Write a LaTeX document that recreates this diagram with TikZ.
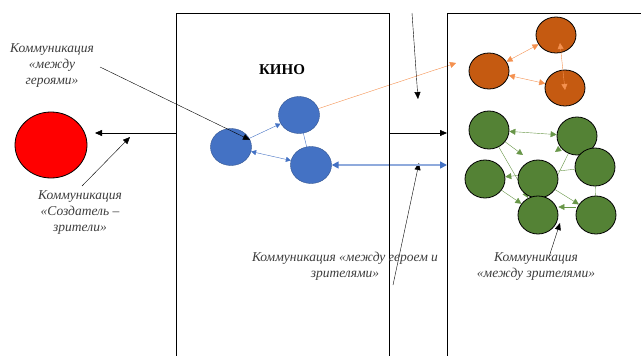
\documentclass[tikz,border=0pt]{standalone}
\usepackage{fontspec}
\setmainfont{Liberation Serif}
\usetikzlibrary{positioning,arrows.meta,shapes.geometric,backgrounds}

\definecolor{heroblue}{RGB}{68,114,196}
\definecolor{heroline}{RGB}{47,82,143}
\definecolor{lightblue}{RGB}{143,170,220}
\definecolor{rust}{RGB}{197,90,17}
\definecolor{orangearr}{RGB}{244,145,80}
\definecolor{viewgreen}{RGB}{84,130,53}
\definecolor{greenarr}{RGB}{104,150,72}
\definecolor{labelgray}{RGB}{60,60,60}

\begin{document}
\begin{tikzpicture}[
  x=1pt, y=-1pt,
  every node/.style={inner sep=0pt},
  hero/.style={ellipse, draw=heroline, fill=heroblue, minimum width=41pt, minimum height=37pt},
  star/.style={ellipse, draw=black, thick, fill=rust, minimum width=40pt, minimum height=36pt},
  viewer/.style={ellipse, draw=black, thick, fill=viewgreen, minimum width=40pt, minimum height=38pt},
  note/.style={align=center, text=labelgray, font=\fontsize{13.5}{16}\selectfont\itshape},
  arr/.style={-{Triangle[length=7pt,width=6pt]}, thin},
  barr/.style={heroblue, {Triangle[length=5pt,width=5pt]}-{Triangle[length=5pt,width=5pt]}, thin},
  oarr/.style={orangearr, {Triangle[length=6pt,width=6pt]}-{Triangle[length=6pt,width=6pt]}, thin},
  garr/.style={greenarr, -{Triangle[length=6pt,width=6pt]}, thin}
]
\useasboundingbox (0,0) rectangle (641,356);

% frames
\draw[thick] (176,356) -- (176,13) -- (389,13) -- (389,356);
\draw[thick] (447,356) -- (447,13) -- (641,13);

% nodes
\node[ellipse, draw=black, thick, fill=red, minimum width=72pt, minimum height=66pt] (creator) at (51,145) {};
\node[font=\fontsize{15}{18}\selectfont\bfseries] (kino) at (282,70) {КИНО};

\node[hero] (b1) at (231,147) {};
\node[hero] (b2) at (299,115) {};
\node[hero] (b3) at (311,165) {};

\node[star] (o1) at (489,71) {};
\node[star] (o2) at (556,35) {};
\node[star] (o3) at (565,88) {};

\node[viewer] (g1) at (489,130) {};
\node[viewer] (g2) at (577,136) {};
\node[viewer] (g3) at (485,179) {};
\node[viewer] (g4) at (538,179) {};
\node[viewer] (g5) at (595,167) {};
\node[viewer] (g6) at (538,215) {};
\node[viewer] (g7) at (596,215) {};

\node[note] (heroes) at (52,66) {Коммуникация\\«между\\героями»};
\node[note] (author) at (80,213) {Коммуникация\\«Создатель –\\зрители»};
\node[note] (heroview) at (345,266) {Коммуникация «между героем и\\зрителями»};
\node[note] (viewers) at (536,267) {Коммуникация\\«между зрителями»};

% free ends
\coordinate (kinoL) at (176,133);
\coordinate (kinoR) at (389,133);
\coordinate (toCreator) at (95,133);
\coordinate (toView) at (447,133);
\coordinate (toViewB) at (447,165);
\coordinate (toViewO) at (456,63);
\coordinate (topS) at (412,13);
\coordinate (topE) at (418,99);
\coordinate (lowS) at (393,285);
\coordinate (lowE) at (419,163);
\coordinate (heroesS) at (100,67);
\coordinate (heroesE) at (250,140);
\coordinate (authorS) at (82,186);
\coordinate (authorE) at (130,137);
\coordinate (viewersS) at (549,257);
\coordinate (viewersE) at (560,223);
\coordinate (g1tip) at (523,155);
\coordinate (g2tip) at (555,152);

% arrows
\begin{scope}[on background layer]
\draw[arr] (kinoL) -- (toCreator);
\draw[arr] (kinoR) -- (toView);
\draw[arr] (topS) -- (topE);
\draw[arr] (lowS) -- (lowE);
\draw[arr] (authorS) -- (authorE);

\draw[heroblue, -{Triangle[length=5pt,width=5pt]}] (b1) -- (b2);
\draw[barr] (b1) -- (b3);
\draw[heroblue] (b2) -- (b3);
\draw[lightblue, line width=1.6pt, {Triangle[length=7pt,width=7pt,color=heroblue]}-{Triangle[length=7pt,width=7pt,color=heroblue]}] (b3) -- (toViewB);
\draw[orangearr, -{Triangle[length=6pt,width=6pt]}] (b2) -- (toViewO);

\draw[oarr] (o1) -- (o2);
\draw[oarr] (o1) -- (o3);

\draw[greenarr, {Triangle[length=6pt,width=6pt]}-{Triangle[length=6pt,width=6pt]}] (g1) -- (g2);
\draw[garr] (g1) -- (g1tip);
\draw[garr] (g2) -- (g2tip);
\draw[garr] (g1) -- (g6);
\draw[garr] (g3) -- (g6);
\draw[garr] (g5) -- (g3);
\draw[greenarr] (g2) -- (g6);
\draw[garr] (g4) -- (g7);
\draw[garr] ([yshift=8pt]g7.west) -- ([yshift=8pt]g6.east);
\draw[greenarr] (g5) -- (g7);
\end{scope}
\draw[oarr] ([shift={(4,8)}]o2.center) -- ([shift={(0,2)}]o3.center);
\draw[arr] (heroesS) -- (heroesE);
\draw[arr] (viewersS) -- (viewersE);

\end{tikzpicture}
\end{document}
